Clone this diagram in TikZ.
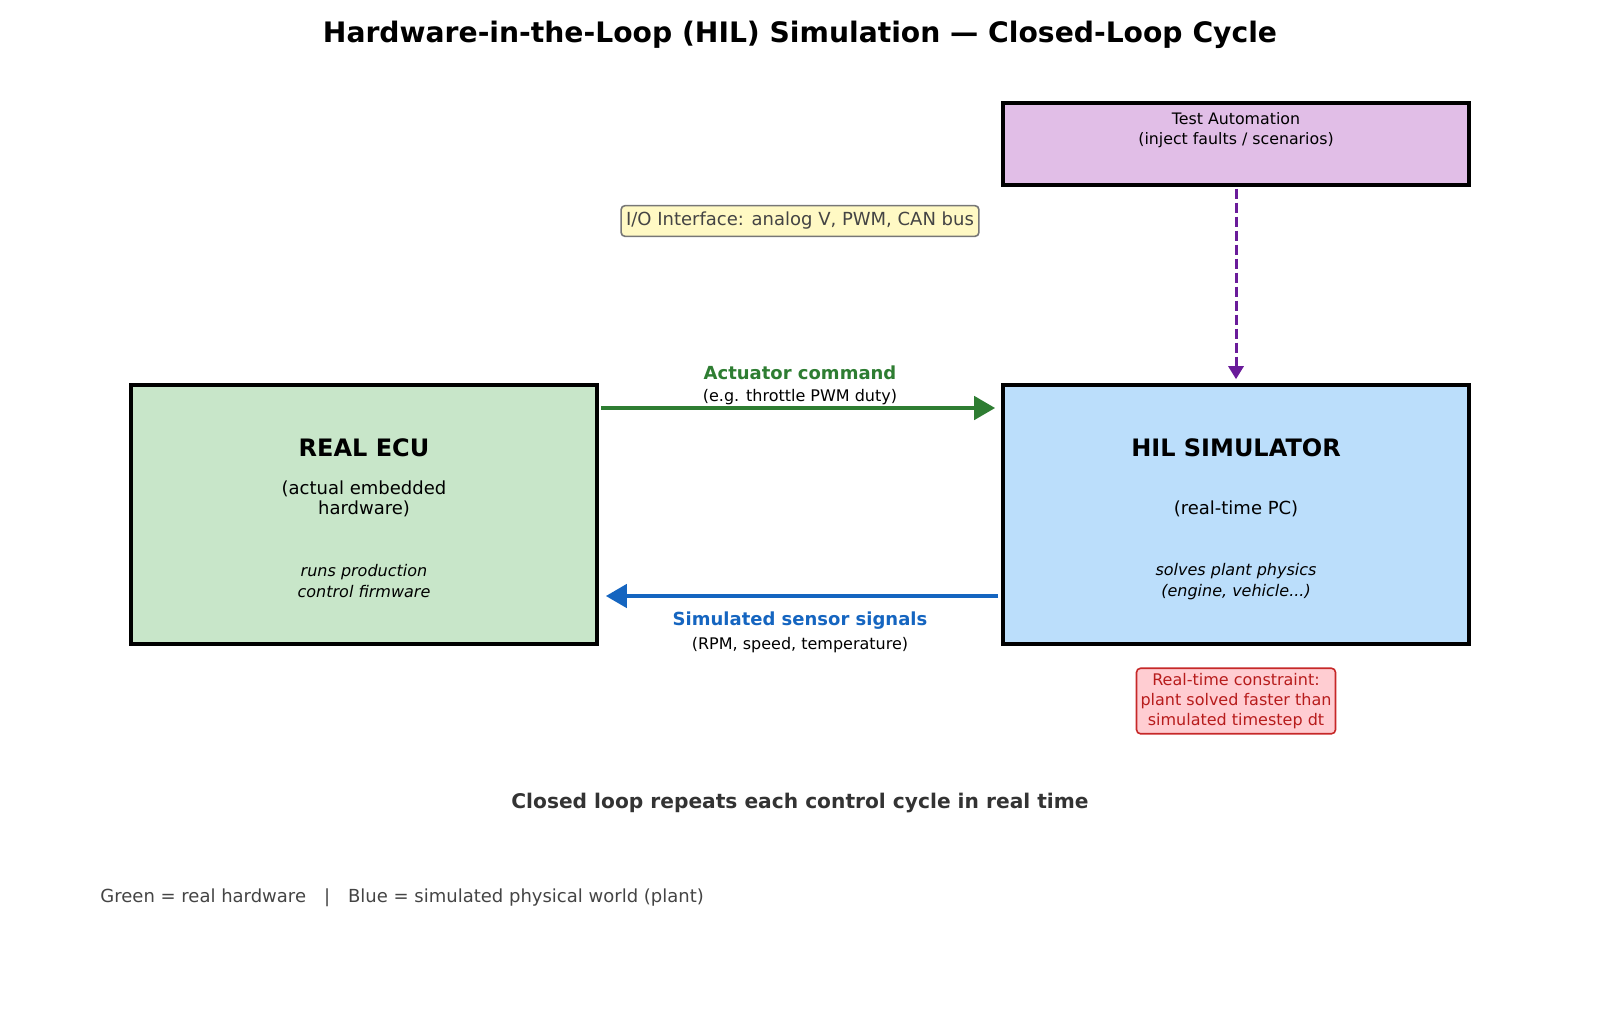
\documentclass[tikz,border=0pt]{standalone}
\usepackage{fontspec}
\setmainfont{DejaVu Sans}
\usetikzlibrary{arrows.meta}
\definecolor{ecufill}{HTML}{C8E6C9}
\definecolor{simfill}{HTML}{BBDEFB}
\definecolor{autofill}{HTML}{E1BEE7}
\definecolor{iofill}{HTML}{FFF9C4}
\definecolor{rtfill}{HTML}{FFCDD2}
\definecolor{rtedge}{HTML}{C62828}
\definecolor{rttext}{HTML}{B71C1C}
\definecolor{actgreen}{HTML}{2E7D32}
\definecolor{sensblue}{HTML}{1565C0}
\definecolor{autopurple}{HTML}{6A1B9A}
\definecolor{darkgray}{HTML}{333333}
\definecolor{leggray}{HTML}{444444}
\definecolor{iogray}{HTML}{777777}
\begin{document}
\begin{tikzpicture}[x=0.5pt,y=-0.5pt,
    mainbox/.style={draw=black,line width=1.8pt,minimum width=233pt,minimum height=129.5pt,inner sep=0pt},
    boxtitle/.style={font=\fontsize{12}{14}\selectfont\bfseries},
    boxsub/.style={font=\fontsize{9}{10}\selectfont,align=center},
    boxnote/.style={font=\fontsize{8}{10.5}\selectfont\itshape,align=center},
    flowarrow/.style={line width=2.2pt,-{Triangle[length=10.5pt,width=11.5pt]}}]
\useasboundingbox (0,0) rectangle (1600,1018);
\node[font=\fontsize{14.1}{16}\selectfont\bfseries] (title) at (800,35) {Hardware-in-the-Loop (HIL) Simulation — Closed-Loop Cycle};
% the two main blocks
\node[mainbox,fill=ecufill] (ecu) at (364,514.5) {};
\node[mainbox,fill=simfill] (hil) at (1236,514.5) {};
\node[boxtitle] (ecutitle) at (364,448) {REAL ECU};
\node[boxsub] (ecusub) at (364,499) {(actual embedded\\hardware)};
\node[boxnote] (ecunote) at (364,581.5) {runs production\\control firmware};
\node[boxtitle] (hiltitle) at (1236,448) {HIL SIMULATOR};
\node[boxsub] (hilsub) at (1236,509) {(real-time PC)};
\node[boxnote] (hilnote) at (1236,581.5) {solves plant physics\\(engine, vehicle...)};
% test automation on top
\node[draw=black,line width=1.6pt,fill=autofill,minimum width=233pt,minimum height=41pt,inner sep=0pt] (auto) at (1236,144) {};
\node[font=\fontsize{7.9}{10}\selectfont,align=center] (autotxt) at (1236,130) {Test Automation\\(inject faults / scenarios)};
\node[draw=iogray,line width=0.8pt,fill=iofill,rounded corners=2pt,text=leggray,font=\fontsize{9}{10}\selectfont,inner xsep=2.5pt,minimum height=15pt] (io) at (800,221) {I/O Interface: analog V, PWM, CAN bus};
\node[draw=rtedge,line width=0.8pt,fill=rtfill,rounded corners=2pt,text=rttext,font=\fontsize{8}{10}\selectfont,align=center,inner xsep=2pt,inner ysep=2.5pt] (rt) at (1236,701) {Real-time constraint:\\plant solved faster than\\simulated timestep dt};
% loop connectors
\coordinate (acty) at (0,408);
\coordinate (sensy) at (0,596);
\draw[flowarrow,actgreen,shorten <=1pt,shorten >=3pt] (ecu.east |- acty) -- (hil.west |- acty);
\draw[flowarrow,sensblue,shorten <=1.5pt,shorten >=3.5pt] (hil.west |- sensy) -- (ecu.east |- sensy);
\draw[autopurple,line width=1.5pt,dash pattern=on 5pt off 2pt,-{Triangle[length=6.5pt,width=7.5pt]},shorten <=1pt,shorten >=2pt] (auto.south) -- (hil.north);
\node[font=\fontsize{9}{10}\selectfont\bfseries,text=actgreen] (actlbl) at (800,373) {Actuator command};
\node[font=\fontsize{8}{10}\selectfont] (actsub) at (800,397) {(e.g. throttle PWM duty)};
\node[font=\fontsize{9}{10}\selectfont\bfseries,text=sensblue] (senslbl) at (800,621) {Simulated sensor signals};
\node[font=\fontsize{8}{10}\selectfont] (senssub) at (800,645) {(RPM, speed, temperature)};
\node[font=\fontsize{10.1}{12}\selectfont\bfseries,text=darkgray] (loop) at (800,803) {Closed loop repeats each control cycle in real time};
\node[anchor=west,inner sep=0pt,font=\fontsize{9}{10}\selectfont,text=leggray] (legend) at (100,898) {Green = real hardware\hspace{9pt}|\hspace{9pt}Blue = simulated physical world (plant)};
\end{tikzpicture}
\end{document}
